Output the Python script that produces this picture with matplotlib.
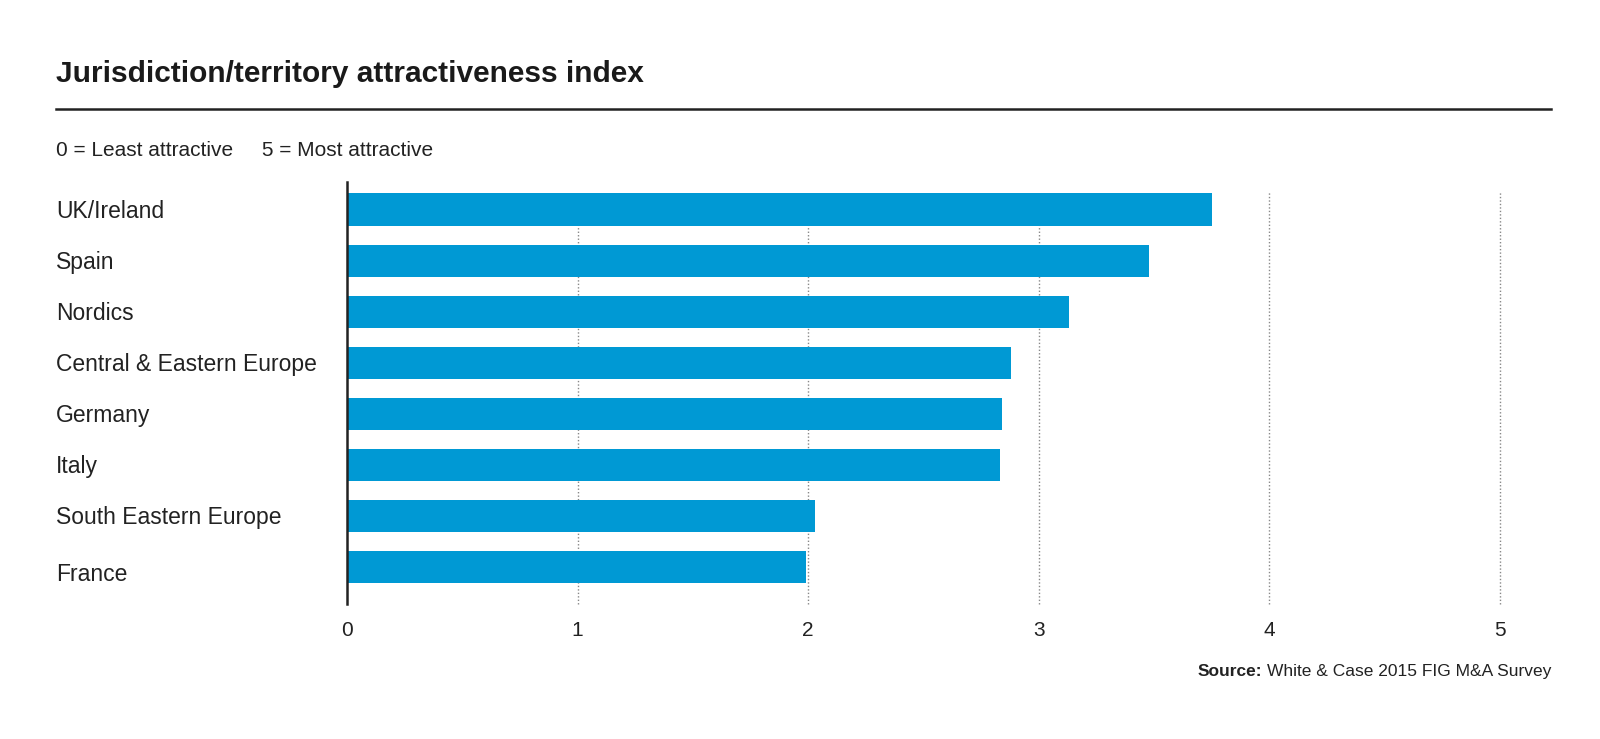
import matplotlib
matplotlib.use("Agg")
import matplotlib.pyplot as plt
import matplotlib.transforms as mtrans

categories = ["UK/Ireland", "Spain", "Nordics", "Central & Eastern Europe",
              "Germany", "Italy", "South Eastern Europe", "France"]
values = [3.75, 3.48, 3.13, 2.88, 2.84, 2.83, 2.03, 1.99]
xticks = [0, 1, 2, 3, 4, 5]
xticklabels = ["0", "1", "2", "3", "4", "5"]

title = "Jurisdiction/territory attractiveness index"
subtitle = "0 = Least attractive     5 = Most attractive"
source_bold = "Source:"
source_rest = "White & Case 2015 FIG M&A Survey"

BAR = "#0099d4"
TXT = "#222222"
plt.rcParams["font.family"] = ["Liberation Sans", "DejaVu Sans"]

W, H = 1600, 739
fig = plt.figure(figsize=(W / 100, H / 100), dpi=100)
ax_left, ax_right, ax_top, ax_bot = 347, 1500, 182, 604
ax = fig.add_axes([ax_left / W, 1 - ax_bot / H, (ax_right - ax_left) / W,
                   (ax_bot - ax_top) / H])

ypos = list(range(len(categories)))
ax.barh(ypos, values, height=0.63, color=BAR, zorder=3)
ax.set_xlim(0, 5)
ax.set_ylim(7.72, -0.54)

for x in xticks[1:]:
    ax.axvline(x, ymin=0, ymax=0.978, color="#888888", lw=1.0,
               linestyle=(0, (1, 1.5)), zorder=1, clip_on=False)

for s in ["top", "right", "bottom"]:
    ax.spines[s].set_visible(False)
ax.spines["left"].set_color("#222222")
ax.spines["left"].set_linewidth(1.8)
ax.spines["left"].set_zorder(4)

ax.set_xticks(xticks)
ax.set_xticklabels(xticklabels, fontsize=15, color=TXT)
ax.tick_params(axis="x", length=0, pad=12)
ax.set_yticks([])

trans = mtrans.blended_transform_factory(fig.transFigure, ax.transData)
for y, c in zip(ypos, categories):
    dy = 0.15 if y == len(categories) - 1 else 0.03
    ax.text(56 / W, y + dy, c, transform=trans, ha="left", va="center",
            fontsize=16.5, color=TXT, clip_on=False)

fig.text(56 / W, 1 - 73.5 / H, title, ha="left", va="center",
         fontsize=21.5, fontweight="bold", color="#1a1a1a")
fig.add_artist(plt.Line2D([56 / W, 1551 / W], [1 - 109 / H, 1 - 109 / H],
                          color="#222222", lw=1.8, transform=fig.transFigure))
fig.text(56 / W, 1 - 150 / H, subtitle, ha="left", va="center",
         fontsize=15, color=TXT)

t2 = fig.text(1551 / W, 1 - 676 / H, source_rest, ha="right", va="baseline",
              fontsize=12.5, color=TXT)
fig.canvas.draw()
bb = t2.get_window_extent()
fig.text((bb.x0 - 5) / W, 1 - 676 / H, source_bold, ha="right", va="baseline",
         fontsize=12.5, fontweight="bold", color=TXT)

fig.savefig("out.png", dpi=100, facecolor="white")
